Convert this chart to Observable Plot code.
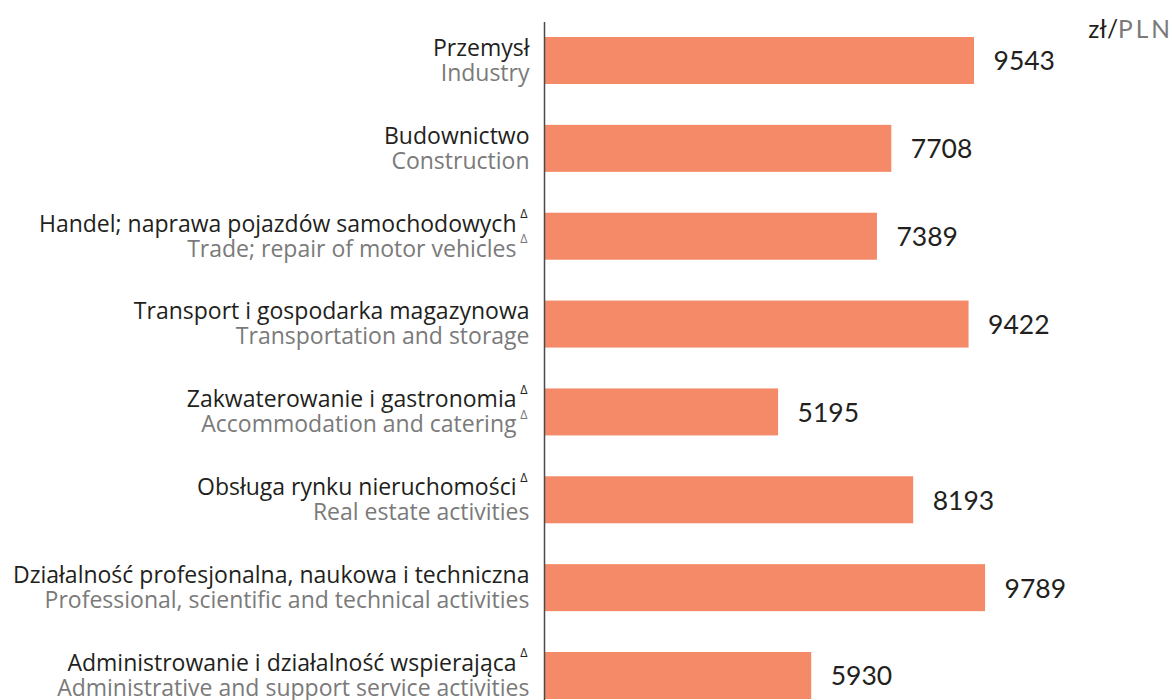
<!DOCTYPE html>
<html>
<head>
<meta charset="utf-8">
<script src="https://cdn.jsdelivr.net/npm/d3@7"></script>
<script src="https://cdn.jsdelivr.net/npm/@observablehq/plot@0.6"></script>
<style>
  html, body { margin: 0; padding: 0; background: #fff; overflow: hidden; }
  #wrap { position: relative; width: 1172px; height: 700px; }
  #unit { position: absolute; top: 14px; right: 2px; font-family: Lato, sans-serif; font-size: 24.5px; color: #231f20; }
  #unit .g { color: #7a7a7a; letter-spacing: 3px; margin-right: -3px; }
</style>
</head>
<body>
<div id="wrap">
  <div id="chart"></div>
  <div id="unit">zł/<span class="g">PLN</span></div>
</div>
<script>
const categoriesPl = [
  "Przemysł",
  "Budownictwo",
  "Handel; naprawa pojazdów samochodowych",
  "Transport i gospodarka magazynowa",
  "Zakwaterowanie i gastronomia",
  "Obsługa rynku nieruchomości",
  "Działalność profesjonalna, naukowa i techniczna",
  "Administrowanie i działalność wspierająca"
];
const categoriesEn = [
  "Industry",
  "Construction",
  "Trade; repair of motor vehicles",
  "Transportation and storage",
  "Accommodation and catering",
  "Real estate activities",
  "Professional, scientific and technical activities",
  "Administrative and support service activities"
];
const values = [9543, 7708, 7389, 9422, 5195, 8193, 9789, 5930];
const deltaPl = [false, false, true, false, true, true, false, true];
const deltaEn = [false, false, true, false, true, false, false, false];

const rows = categoriesPl.map((pl, i) => ({
  pl, en: categoriesEn[i], value: values[i], dPl: deltaPl[i], dEn: deltaEn[i]
}));

const barColor = "#f48a67";
const darkText = "#231f20";
const grayText = "#7a7a7a";
const labelFont = "'Open Sans', sans-serif";
const labelSize = 23;

const chart = Plot.plot({
  width: 1172,
  height: 700,
  marginTop: 22,
  marginBottom: 0,
  marginLeft: 0,
  marginRight: 0,
  style: { fontFamily: "Lato, sans-serif", background: "#fff" },
  x: { domain: [0, 10000], range: [544, 994.6], axis: null },
  y: { domain: categoriesPl, range: [37, 699], paddingInner: 0.465, paddingOuter: 0, round: false, axis: null },
  marks: [
    Plot.barX(rows, { x: "value", y: "pl", fill: barColor }),
    Plot.ruleX([0], { stroke: "#4a4a4a", strokeWidth: 1.5 }),
    Plot.text(rows, {
      x: "value", y: "pl", text: d => String(d.value),
      textAnchor: "start", dx: 19, dy: 1, fontSize: 26.5, fill: darkText
    }),
    Plot.text(rows, {
      x: 0, y: "pl", text: "pl", textAnchor: "end", fontFamily: labelFont,
      dx: -15, dy: -12.5, fontSize: labelSize, fill: darkText,
      filter: d => !d.dPl
    }),
    Plot.text(rows, {
      x: 0, y: "pl", text: "pl", textAnchor: "end", fontFamily: labelFont,
      dx: -28, dy: -12.5, fontSize: labelSize, fill: darkText,
      filter: d => d.dPl
    }),
    Plot.text(rows, {
      x: 0, y: "pl", text: () => "Δ", textAnchor: "end", fontFamily: labelFont,
      dx: -17, dy: -22.5, fontSize: 12.5, fill: darkText,
      filter: d => d.dPl
    }),
    Plot.text(rows, {
      x: 0, y: "pl", text: "en", textAnchor: "end", fontFamily: labelFont,
      dx: -15, dy: 12.5, fontSize: labelSize, fill: grayText,
      filter: d => !d.dEn
    }),
    Plot.text(rows, {
      x: 0, y: "pl", text: "en", textAnchor: "end", fontFamily: labelFont,
      dx: -28, dy: 12.5, fontSize: labelSize, fill: grayText,
      filter: d => d.dEn
    }),
    Plot.text(rows, {
      x: 0, y: "pl", text: () => "Δ", textAnchor: "end", fontFamily: labelFont,
      dx: -17, dy: 2.5, fontSize: 12.5, fill: grayText,
      filter: d => d.dEn
    })
  ]
});
document.getElementById("chart").append(chart);
</script>
</body>
</html>
